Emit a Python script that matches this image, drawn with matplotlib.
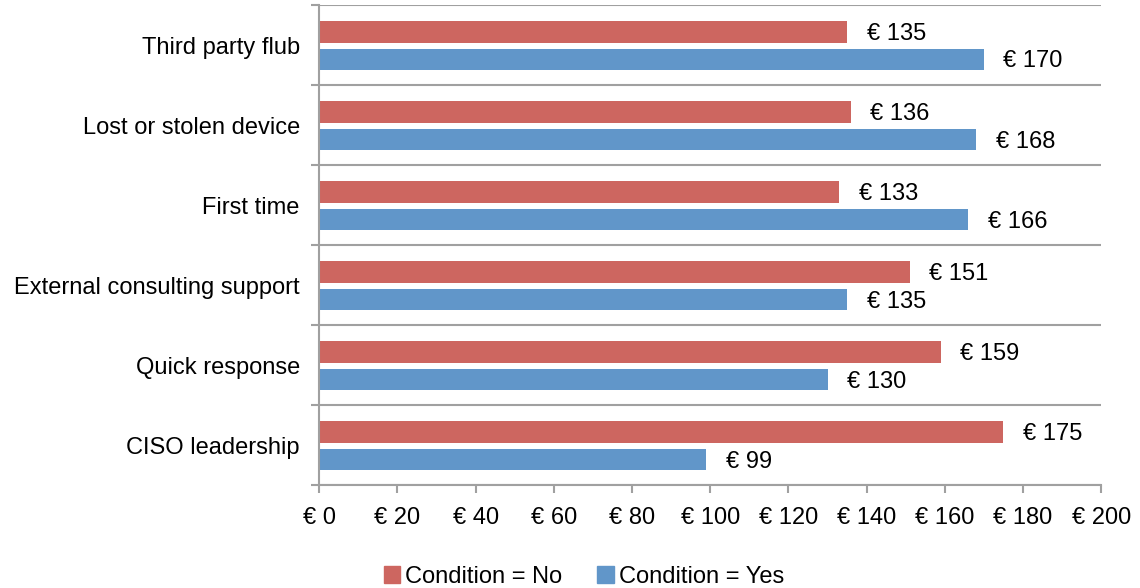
import matplotlib.pyplot as plt
from matplotlib.patches import Patch
import numpy as np

plt.rcParams['font.family'] = ['Liberation Sans', 'DejaVu Sans']

categories = ["Third party flub", "Lost or stolen device", "First time",
              "External consulting support", "Quick response", "CISO leadership"]
cond_no = [135, 136, 133, 151, 159, 175]
cond_yes = [170, 168, 166, 135, 130, 99]
xticks = [0, 20, 40, 60, 80, 100, 120, 140, 160, 180, 200]

red = "#CD6660"
blue = "#6196C9"
gray = "#A0A0A0"
fs = 17

fig = plt.figure(figsize=(11.4, 5.88), dpi=100)
ax = fig.add_axes([0.280, 0.175, 0.686, 0.8165])

y = np.arange(len(categories))
h = 0.27
ax.barh(y - 0.165, cond_no, height=h, color=red)
ax.barh(y + 0.18, cond_yes, height=h, color=blue)

# data labels after each bar
for yi, v in zip(y - 0.165, cond_no):
    ax.annotate(f"€ {v}", (v, yi), xytext=(14, -1.5), textcoords="offset points",
                va="center", ha="left", fontsize=fs)
for yi, v in zip(y + 0.18, cond_yes):
    ax.annotate(f"€ {v}", (v, yi), xytext=(14, -1.5), textcoords="offset points",
                va="center", ha="left", fontsize=fs)

ax.set_xlim(0, 200)
ax.set_ylim(len(categories) - 0.5, -0.5)
ax.set_xticks(xticks)
ax.set_xticklabels([f"€ {t}" for t in xticks], fontsize=fs)
ax.set_yticks(y)
ax.set_yticklabels(categories, fontsize=fs)
ax.tick_params(axis='y', which='major', length=0, pad=14)
ax.set_yticks(np.arange(len(categories) + 1) - 0.5, minor=True)
ax.tick_params(axis='y', which='minor', length=6, width=1.5, color=gray)
ax.tick_params(axis='x', length=6, width=1.5, color=gray, pad=10)
for b in np.arange(len(categories) + 1) - 0.5:
    ax.axhline(b, color=gray, lw=1.5, zorder=0)

for s in ['top', 'right']:
    ax.spines[s].set_visible(False)
for s in ['left', 'bottom']:
    ax.spines[s].set_color(gray)
    ax.spines[s].set_linewidth(1.5)

handles = [Patch(color=red, label="Condition = No"),
           Patch(color=blue, label="Condition = Yes")]
fig.legend(handles=handles, loc="lower center", bbox_to_anchor=(0.512, -0.036),
           ncol=2, frameon=False, fontsize=fs, handlelength=0.7, handleheight=0.7,
           handletextpad=0.2, columnspacing=1.5)

fig.savefig("out.png", dpi=100)
